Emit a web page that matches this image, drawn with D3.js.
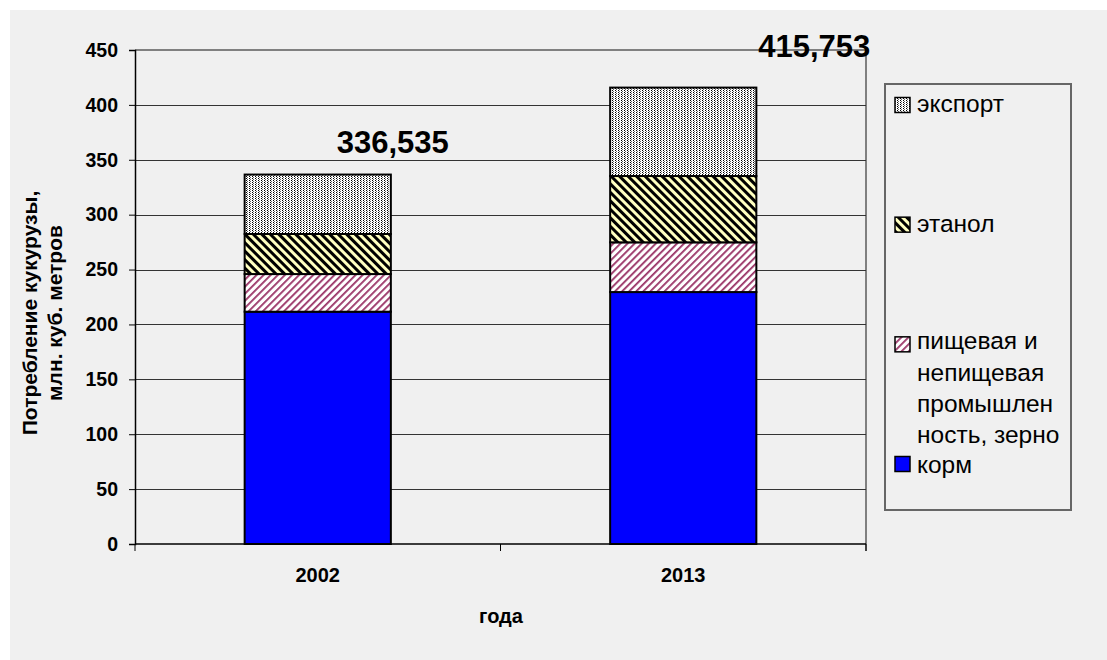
<!DOCTYPE html>
<html>
<head>
<meta charset="utf-8">
<script src="https://cdn.jsdelivr.net/npm/d3@7"></script>
<style>
  html, body { margin: 0; padding: 0; background: #ffffff; }
  svg { display: block; font-family: Arial, "Liberation Sans", sans-serif; }
</style>
</head>
<body>
<svg id="chart" width="1107" height="660"></svg>
<script>
// ---- data ----
const categories = ["2002", "2013"];
const feed = [211.6, 229.5];
const foodIndustry = [34.3, 45.3];
const ethanol = [36.5, 60.4];
const exportVals = [54.135, 80.553];
const totalLabels = ["336,535", "415,753"];
const yTicks = [0, 50, 100, 150, 200, 250, 300, 350, 400, 450];
const seriesKeys = ["feed", "food", "ethanol", "export"];
const legendLines = [
  ["экспорт"],
  ["этанол"],
  ["пищевая и", "непищевая", "промышлен", "ность, зерно"],
  ["корм"]
];
const legendKeys = ["export", "ethanol", "food", "feed"];
const yTitleLines = ["Потребление кукурузы,", "млн. куб. метров"];
const xTitle = "года";

// ---- setup ----
const svg = d3.select("#chart");
const W = 1107, H = 660;
svg.append("rect").attr("x", 0).attr("y", 0).attr("width", W).attr("height", H).attr("fill", "#ffffff");
svg.append("rect").attr("x", 10).attr("y", 10).attr("width", W - 10).attr("height", H - 10).attr("fill", "#f0f0f0");

const defs = svg.append("defs");
// export: fine dotted grey
const pExp = defs.append("pattern").attr("id", "p-export").attr("patternUnits", "userSpaceOnUse")
  .attr("width", 3).attr("height", 2);
pExp.append("rect").attr("width", 3).attr("height", 2).attr("fill", "#ffffff");
pExp.append("rect").attr("x", 0).attr("y", 0).attr("width", 1).attr("height", 1).attr("fill", "#000").attr("shape-rendering", "crispEdges");
pExp.append("rect").attr("x", 1).attr("y", 1).attr("width", 1).attr("height", 1).attr("fill", "#666").attr("shape-rendering", "crispEdges");
// ethanol: light yellow with thick black "\" stripes
const pEth = defs.append("pattern").attr("id", "p-ethanol").attr("patternUnits", "userSpaceOnUse")
  .attr("width", 6).attr("height", 6).attr("patternTransform", "rotate(-45)");
pEth.append("rect").attr("width", 6).attr("height", 6).attr("fill", "#ffffc0");
pEth.append("rect").attr("x", 0).attr("y", 0).attr("width", 3).attr("height", 6).attr("fill", "#000");
// food: white with maroon "/" stripes
const pFood = defs.append("pattern").attr("id", "p-food").attr("patternUnits", "userSpaceOnUse")
  .attr("width", 5).attr("height", 5).attr("patternTransform", "rotate(45)");
pFood.append("rect").attr("width", 5).attr("height", 5).attr("fill", "#ffffff");
pFood.append("rect").attr("x", 0).attr("y", 0).attr("width", 1.8).attr("height", 5).attr("fill", "#993366");

const fills = { feed: "#0000ff", food: "url(#p-food)", ethanol: "url(#p-ethanol)", export: "url(#p-export)" };

// ---- scales ----
const plot = { left: 135, right: 866, top: 50, bottom: 544 };
const x = d3.scaleBand().domain(categories).range([plot.left, plot.right]).paddingInner(0.6).paddingOuter(0.3);
const y = d3.scaleLinear().domain([0, 450]).range([plot.bottom, plot.top]);

// plot border (top/right, grey)
svg.append("path")
  .attr("d", `M${plot.left},${plot.top}H${plot.right}V${plot.bottom + 7}`)
  .attr("fill", "none").attr("stroke", "#808080").attr("stroke-width", 2);

// gridlines
svg.append("g").selectAll("line").data(yTicks.filter(d => d > 0 && d < 450)).join("line")
  .attr("x1", plot.left).attr("x2", plot.right)
  .attr("y1", d => Math.round(y(d)) + 0.5).attr("y2", d => Math.round(y(d)) + 0.5)
  .attr("stroke", "#333").attr("stroke-width", 1);

// stacked bars
const rows = categories.map((c, i) => ({ cat: c, feed: feed[i], food: foodIndustry[i], ethanol: ethanol[i], export: exportVals[i] }));
const stack = d3.stack().keys(seriesKeys)(rows);
svg.append("g").selectAll("g").data(stack).join("g")
  .attr("fill", d => fills[d.key])
  .selectAll("rect").data(d => d).join("rect")
  .attr("x", d => x(d.data.cat))
  .attr("width", x.bandwidth())
  .attr("y", d => y(d[1]))
  .attr("height", d => y(d[0]) - y(d[1]))
  .attr("stroke", "#000").attr("stroke-width", 2);

// y axis
const yAxis = svg.append("g").attr("transform", `translate(${plot.left},0)`)
  .call(d3.axisLeft(y).tickValues(yTicks).tickSize(6).tickPadding(11).tickFormat(d3.format("d")));
yAxis.select(".domain").attr("stroke", "#000").attr("stroke-width", 1.5);
yAxis.selectAll(".tick line").attr("stroke", "#000");
yAxis.selectAll("text").attr("font-size", 19.5).attr("font-weight", "bold").attr("fill", "#000")
  .attr("font-family", "Arial, 'Liberation Sans', sans-serif");

// x axis
const xAxisG = svg.append("g").attr("transform", `translate(0,${plot.bottom})`);
xAxisG.append("line").attr("x1", plot.left).attr("x2", plot.right).attr("y1", 0).attr("y2", 0)
  .attr("stroke", "#000").attr("stroke-width", 1.5);
const boundaries = [plot.left, (x(categories[0]) + x.bandwidth() + x(categories[1])) / 2, plot.right];
xAxisG.selectAll("line.tk").data(boundaries).join("line").attr("class", "tk")
  .attr("x1", d => d).attr("x2", d => d).attr("y1", 0).attr("y2", 7)
  .attr("stroke", "#000");
xAxisG.selectAll("text").data(categories).join("text")
  .attr("x", d => x(d) + x.bandwidth() / 2).attr("y", 38)
  .attr("text-anchor", "middle").attr("font-size", 20).attr("font-weight", "bold").text(d => d);

// axis titles
svg.append("text").attr("x", 501).attr("y", 623).attr("text-anchor", "middle")
  .attr("font-size", 20).attr("font-weight", "bold").text(xTitle);
const yt = svg.append("text").attr("transform", "translate(37,313) rotate(-90)")
  .attr("text-anchor", "middle").attr("font-size", 21).attr("font-weight", "bold");
yTitleLines.forEach((t, i) => yt.append("tspan").attr("x", 0).attr("dy", i === 0 ? 0 : 25).text(t));

// total labels
const labelOffsets = [{ dx: 75, dy: -22 }, { dx: 131, dy: -31 }];
const totals = categories.map((c, i) => feed[i] + foodIndustry[i] + ethanol[i] + exportVals[i]);
svg.append("g").selectAll("text").data(categories).join("text")
  .attr("x", (d, i) => x(d) + x.bandwidth() / 2 + labelOffsets[i].dx)
  .attr("y", (d, i) => y(totals[i]) + labelOffsets[i].dy)
  .attr("text-anchor", "middle").attr("font-size", 31).attr("font-weight", "bold")
  .text((d, i) => totalLabels[i]);

// legend
const lg = svg.append("g");
lg.append("rect").attr("x", 885).attr("y", 84).attr("width", 186).attr("height", 426)
  .attr("fill", "none").attr("stroke", "#666").attr("stroke-width", 2);
const itemY = d3.scaleLinear().domain([0, 3]).range([105, 464]);
legendKeys.forEach((k, i) => {
  const cy = itemY(i);
  const multi = legendLines[i].length > 1;
  lg.append("rect").attr("x", 895).attr("y", cy - 7.5).attr("width", 15).attr("height", 15)
    .attr("fill", fills[k]).attr("stroke", "#000").attr("stroke-width", 1.5);
  const t = lg.append("text").attr("x", 917).attr("y", cy + (multi ? 5 : (i === 3 ? 9 : 7)))
    .attr("font-size", 24.5).attr("fill", "#000");
  legendLines[i].forEach((line, j) => t.append("tspan").attr("x", 917).attr("dy", j === 0 ? 0 : 31.3).text(line));
});
</script>
</body>
</html>
